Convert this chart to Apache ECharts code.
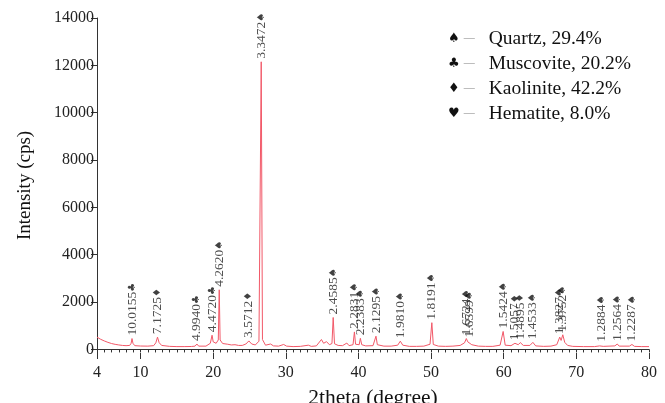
<!DOCTYPE html>
<html>
<head>
<meta charset="utf-8">
<script src="https://cdn.jsdelivr.net/npm/echarts@6/dist/echarts.min.js"></script>
<style>html,body{margin:0;padding:0;background:#fff}#c{width:665px;height:403px}</style>
</head>
<body>
<div id="c"></div>
<script>
// XRD pattern, hand-read points [2theta, intensity]
var pattern = [
 [4,520],[4.5,430],[5,360],[5.5,300],[6,250],[6.5,215],[7,190],[7.5,170],[8,160],[8.5,170],
 [8.7,260],[8.82,460],[8.95,260],[9.2,160],[10,145],[11,140],[11.8,160],[12.1,280],[12.33,520],[12.55,290],
 [12.9,170],[14,130],[15,120],[16,120],[17,125],[17.5,140],[17.75,230],[18,140],[19,140],[19.6,260],
 [19.84,600],[20,320],[20.4,260],[20.7,400],[20.83,2520],[20.95,400],[21.3,250],[22,220],[22.5,190],[23,200],
 [23.5,170],[24,170],[24.5,230],[24.91,360],[25.3,230],[25.8,190],[26.3,350],[26.45,420],[26.61,12150],[26.78,420],
 [27.2,180],[27.9,230],[28.3,150],[29,140],[29.7,210],[30.1,140],[31,120],[32,130],[33.1,180],[33.5,130],
 [34.2,150],[34.9,420],[35.2,260],[35.6,330],[36,200],[36.35,250],[36.52,1350],[36.7,240],[37.2,170],[37.8,160],
 [38.4,270],[38.7,160],[39.25,200],[39.44,740],[39.6,220],[40.1,200],[40.26,470],[40.45,200],[41,150],[42,160],
 [42.25,230],[42.41,560],[42.6,200],[43.5,140],[44.5,140],[45.4,180],[45.76,350],[46.1,180],[47,130],[48,130],
 [49,140],[49.85,220],[50.1,1130],[50.3,210],[51,140],[52,130],[53,140],[54,170],[54.6,280],[54.85,460],
 [55.05,320],[55.3,380],[55.6,200],[56.5,140],[57.5,130],[58.5,130],[59.5,180],[59.92,760],[60.2,180],[61,160],
 [61.54,260],[62,200],[62.28,290],[62.7,170],[63.6,170],[64.01,300],[64.4,150],[65.5,130],[66.5,140],[67.3,200],
 [67.71,520],[67.9,380],[68.13,620],[68.4,300],[68.8,170],[69.5,130],[71,120],[72.5,120],[73.2,150],[73.44,200],
 [73.7,130],[75.3,150],[75.63,230],[75.9,140],[77.3,140],[77.65,210],[78,130],[79,120],[80,120]
];

// Peak annotations
var peakTheta  = [8.82, 12.33, 17.75, 19.84, 20.83, 24.91, 26.61, 36.52, 39.44, 40.26, 42.41, 45.76, 50.1, 54.85, 55.3, 59.92, 61.54, 62.28, 64.01, 67.71, 68.13, 73.44, 75.63, 77.65];
var peakHeight = [460, 520, 230, 600, 2520, 360, 12150, 1350, 740, 470, 560, 350, 1130, 460, 380, 760, 260, 290, 300, 520, 620, 200, 230, 210];
var peakD      = ['10.0155','7.1725','4.9940','4.4720','4.2620','3.5712','3.3472','2.4585','2.2831','2.2383','2.1295','1.9810','1.8191','1.6724','1.6599','1.5424','1.5057','1.4895','1.4533','1.3827','1.3752','1.2884','1.2564','1.2287'];
var peakPhase  = ['♣','♦','♣','♣','♠','♦','♠','♠','♠','♠','♠','♠','♠','♠','♠','♠','♦','♦','♠','♠','♠','♠','♠','♠'];

var xLabelValues = [4, 10, 20, 30, 40, 50, 60, 70, 80];
var yLabelValues = [0, 2000, 4000, 6000, 8000, 10000, 12000, 14000];

var legendSymbols = ['♠', '♣', '♦', '♥'];
var legendTexts = ['Quartz, 29.4%', 'Muscovite, 20.2%', 'Kaolinite, 42.2%', 'Hematite, 8.0%'];

var serif = '"Liberation Serif", "Times New Roman", serif';

var labelData = peakTheta.map(function (t, i) {
  return { value: [t, peakHeight[i]], d: peakD[i], p: peakPhase[i] };
});

var legendLines = legendSymbols.map(function (s, i) {
  return '{s|' + s + '}{d|—}{t|' + legendTexts[i] + '}';
});

var chart = echarts.init(document.getElementById('c'), null, { renderer: 'canvas' });
chart.setOption({
  animation: false,
  backgroundColor: '#fff',
  title: {
    left: 443, top: 21, padding: 5,
    text: legendLines.join('\n'),
    textStyle: {
      fontFamily: serif, fontWeight: 'normal', fontSize: 19, color: '#111', lineHeight: 25,
      rich: {
        s: { fontSize: 13, color: '#111', lineHeight: 25, fontFamily: 'DejaVu Sans' },
        d: { fontSize: 11, color: '#888', lineHeight: 25, padding: [0, 14, 0, 4], fontFamily: serif },
        t: { fontSize: 19.5, color: '#111', lineHeight: 25, fontFamily: serif }
      }
    }
  },
  grid: { left: 97, right: 16, top: 18, bottom: 50, containLabel: false, outerBoundsMode: 'none' },
  xAxis: [{
    type: 'value', min: 4, max: 80, interval: 1,
    name: '2theta (degree)', nameLocation: 'middle', nameGap: 34,
    nameTextStyle: { fontFamily: serif, fontSize: 21.5, color: '#111' },
    axisLine: { lineStyle: { color: '#333', width: 1 } },
    axisTick: { length: 3, lineStyle: { color: '#333' } },
    axisLabel: { customValues: xLabelValues, fontFamily: serif, fontSize: 16, color: '#222', margin: 12 },
    splitLine: { show: false }
  }, {
    type: 'value', min: 4, max: 80, position: 'bottom', offset: 0,
    axisLine: { show: false },
    axisTick: { customValues: xLabelValues, length: 6, lineStyle: { color: '#333' } },
    axisLabel: { show: false },
    splitLine: { show: false }
  }],
  yAxis: {
    type: 'value', min: -150, max: 14000,
    name: 'Intensity (cps)', nameLocation: 'middle', nameGap: 62,
    nameTextStyle: { fontFamily: serif, fontSize: 19, color: '#111' },
    axisLine: { show: true, lineStyle: { color: '#333', width: 1 } },
    axisTick: { show: true, customValues: yLabelValues, length: 6, lineStyle: { color: '#333' } },
    axisLabel: {
      customValues: yLabelValues, fontFamily: serif, fontSize: 16, color: '#222', margin: 3,
      formatter: function (v) { return String(v); }
    },
    splitLine: { show: false }
  },
  series: [{
    type: 'line', xAxisIndex: 0, data: pattern, showSymbol: false, symbol: 'none',
    lineStyle: { color: '#f25868', width: 1 }
  }, {
    type: 'scatter', xAxisIndex: 0, data: labelData, symbolSize: 0, silent: true,
    label: {
      show: true, position: 'top', distance: 3, rotate: 90, align: 'left', verticalAlign: 'middle',
      formatter: function (p) { return '{v|' + p.data.d + '}{s|' + p.data.p + '}'; },
      rich: {
        v: { fontFamily: serif, fontSize: 13.5, color: '#222' },
        s: { fontFamily: 'DejaVu Sans', fontSize: 10, color: '#111' }
      }
    }
  }]
});
</script>
</body>
</html>
